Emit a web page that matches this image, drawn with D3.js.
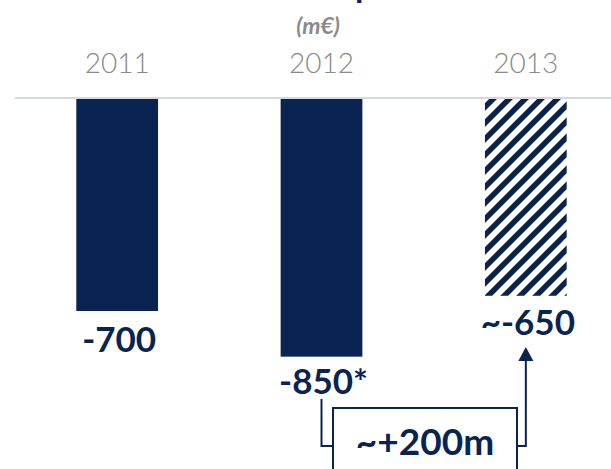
<!DOCTYPE html>
<html>
<head>
<meta charset="utf-8">
<script src="https://cdn.jsdelivr.net/npm/d3@7"></script>
<style>
  html, body { margin: 0; padding: 0; background: #ffffff; }
  svg { display: block; }
</style>
</head>
<body>
<svg id="chart" width="611" height="469"></svg>
<script>
// ---- data ----
const years = ["2011", "2012", "2013"];
const values = [-700, -850, -650];
const valueLabels = ["-700", "-850*", "~-650"];
const forecast = [false, false, true];
const unitLabel = "(m€)";
const changeLabel = "~+200m";
const titleText = "Free cash flow improvement";

// ---- setup ----
const W = 611, H = 469;
const navy = "#0a2451";
const grey = "#8a8a8a";
const svg = d3.select("#chart");

const x = d3.scaleBand().domain(years).range([15, 628]).paddingInner(0.6).paddingOuter(0.3);
const y = d3.scaleLinear().domain([0, -1000]).range([98, 98 + 304.3]);

// hatch pattern
const defs = svg.append("defs");
const pat = defs.append("pattern").attr("id", "hatch")
  .attr("patternUnits", "userSpaceOnUse").attr("width", 16).attr("height", 16);
pat.append("rect").attr("width", 16).attr("height", 16).attr("fill", "#fff");
pat.append("path").attr("d", "M-4,4 L4,-4 M0,16 L16,0 M12,20 L20,12")
  .attr("stroke", navy).attr("stroke-width", 5.5);

// title (cut off at the top, as in the reference)
const title = svg.append("text")
  .attr("y", -3)
  .attr("font-family", "Lato, sans-serif").attr("font-weight", 700).attr("font-size", 34)
  .attr("fill", navy).text(titleText);
const pIdx = titleText.indexOf("p");
const pre = title.node().getSubStringLength(0, pIdx);
title.attr("x", 355 - pre);

// unit label
svg.append("text").attr("x", 318).attr("y", 34).attr("text-anchor", "middle")
  .attr("font-family", "Lato, sans-serif").attr("font-weight", 700).attr("font-style", "italic")
  .attr("font-size", 23).attr("fill", grey).text(unitLabel);

// year axis labels (top)
const xAxis = d3.axisTop(x).tickSize(0).tickPadding(0);
const gx = svg.append("g").attr("transform", "translate(0,73)").call(xAxis);
gx.select(".domain").remove();
gx.selectAll("text").attr("font-family", "Lato, sans-serif").attr("font-weight", 300)
  .attr("font-size", 28).attr("fill", grey).attr("dy", 0);

// zero line
svg.append("line").attr("x1", 15).attr("x2", W).attr("y1", y(0)).attr("y2", y(0))
  .attr("stroke", "#d3d8e2").attr("stroke-width", 2);

// bars
svg.selectAll("rect.bar").data(years).join("rect").attr("class", "bar")
  .attr("x", d => x(d))
  .attr("y", y(0) + 1)
  .attr("width", x.bandwidth())
  .attr("height", (d, i) => y(values[i]) - y(0) - 1)
  .attr("fill", (d, i) => forecast[i] ? "url(#hatch)" : navy);

// value labels
const labelOffsets = [41, 37, 39];
svg.selectAll("text.val").data(years).join("text").attr("class", "val")
  .attr("x", d => x(d) + x.bandwidth() / 2 + 2)
  .attr("y", (d, i) => y(values[i]) + labelOffsets[i])
  .attr("text-anchor", "middle")
  .attr("font-family", "Lato, sans-serif").attr("font-weight", 700).attr("font-size", 35)
  .attr("fill", navy).text((d, i) => valueLabels[i]);

// change bracket
const cx2012 = x("2012") + x.bandwidth() / 2;
const cx2013 = x("2013") + x.bandwidth() / 2;
const yBottom = 446;
const boxL = 333, boxR = 517, boxT = 408;
svg.append("path")
  .attr("d", `M${cx2012},399 V${yBottom} H${boxL}`)
  .attr("fill", "none").attr("stroke", navy).attr("stroke-width", 2);
svg.append("rect").attr("x", boxL).attr("y", boxT).attr("width", boxR - boxL).attr("height", 100)
  .attr("fill", "#fff").attr("stroke", navy).attr("stroke-width", 2);
const arrowTip = 347;
svg.append("path")
  .attr("d", `M${boxR},${yBottom} H${cx2013} V${arrowTip + 12}`)
  .attr("fill", "none").attr("stroke", navy).attr("stroke-width", 2);
svg.append("path")
  .attr("d", `M${cx2013},${arrowTip} L${cx2013 + 7.5},${arrowTip + 14} L${cx2013 - 7.5},${arrowTip + 14} Z`)
  .attr("fill", navy);
svg.append("text").attr("x", (boxL + boxR) / 2).attr("y", 455).attr("text-anchor", "middle")
  .attr("font-family", "Lato, sans-serif").attr("font-weight", 700).attr("font-size", 37)
  .attr("fill", navy).text(changeLabel);
</script>
</body>
</html>
